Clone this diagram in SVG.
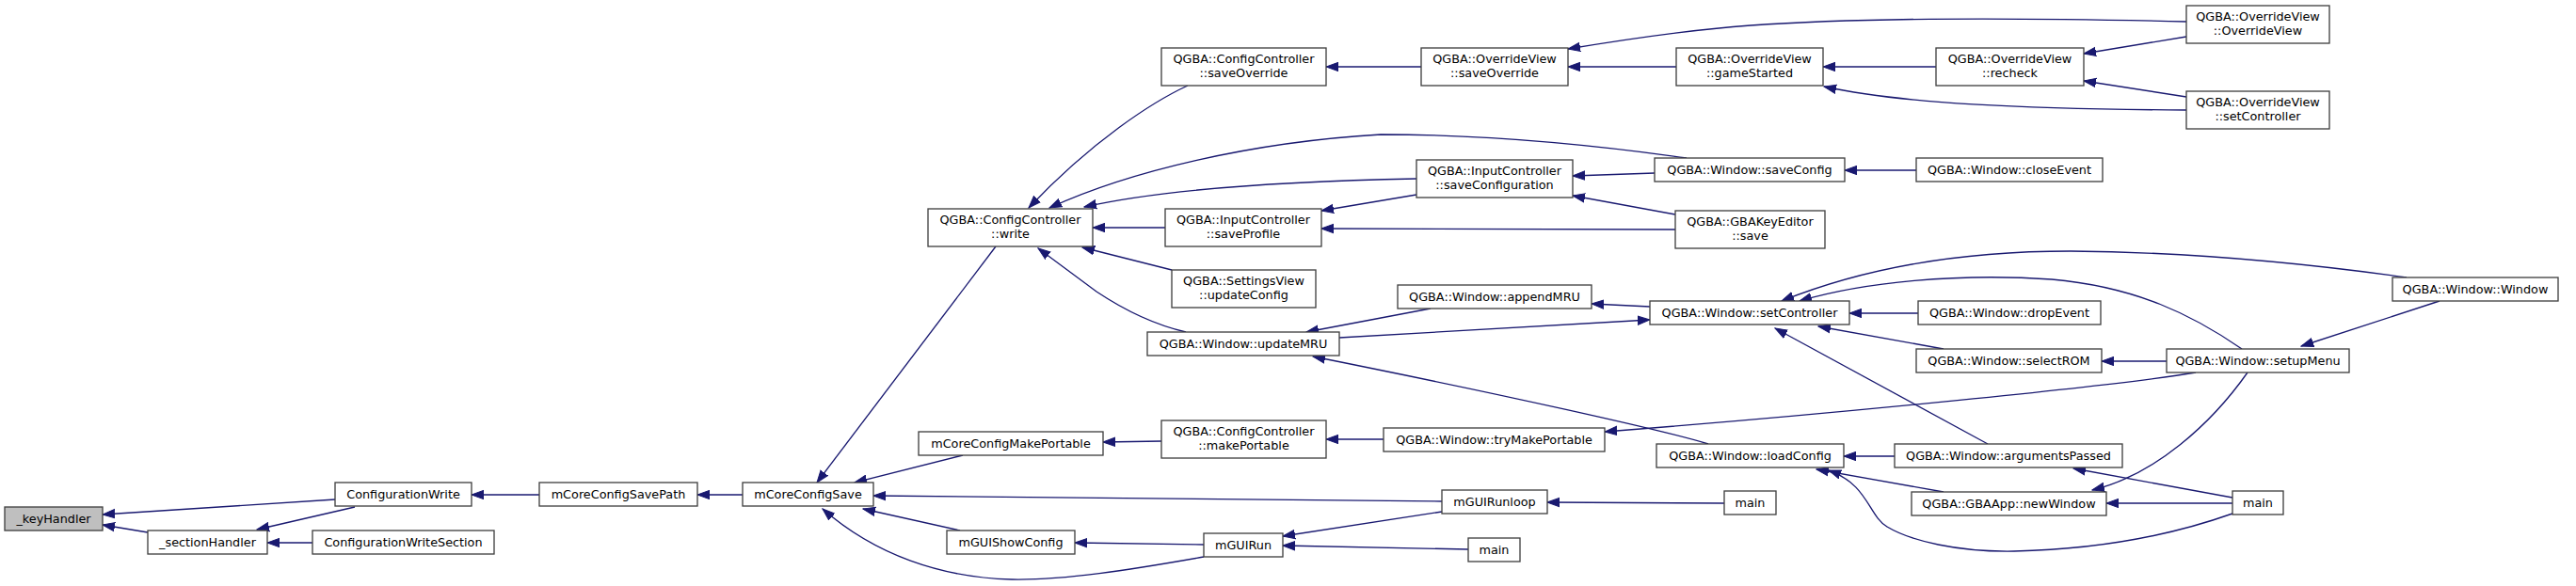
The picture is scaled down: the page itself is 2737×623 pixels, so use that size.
<svg xmlns="http://www.w3.org/2000/svg" width="2737" height="623" viewBox="0 0 2737 623">
<style>
.n rect{fill:#ffffff;stroke:#404040;stroke-width:1.33}
.n.root rect{fill:#bfbfbf}
.n text{font-family:"DejaVu Sans",sans-serif;font-size:12.8px;fill:#000000;text-anchor:middle}
#edges path{fill:none;stroke:#191970;stroke-width:1.33;marker-end:url(#ah)}
</style>
<defs>
<marker id="ah" markerUnits="userSpaceOnUse" viewBox="0 -6 14 12" refX="13" refY="0" markerWidth="14" markerHeight="12" orient="auto">
<path d="M0,-4.7 L13,0 L0,4.7 Z" fill="#191970" stroke="#191970" stroke-width="1"/>
</marker>
</defs>
<rect width="2737" height="623" fill="#ffffff"/>
<g id="edges">
<path d="M356,531 L109,547"/>
<path d="M157,566 L109,558"/>
<path d="M377,539 L273,563"/>
<path d="M332,577 L284,577"/>
<path d="M573,526 L501,526"/>
<path d="M789,526 L741,526"/>
<path d="M1058,262 L868,513"/>
<path d="M1023,484 L908,513"/>
<path d="M1532,533 L928,527"/>
<path d="M1020,564 L917,541"/>
<path d="M1279,592 C1200,606 1130,617 1075,616 C1000,614 930,590 874,541"/>
<path d="M1279,579 L1142,577"/>
<path d="M1532,544 L1363,570"/>
<path d="M1560,584 L1363,580"/>
<path d="M1832,535 L1644,534"/>
<path d="M1262,91 C1225,108 1160,150 1093,221"/>
<path d="M1792,168 C1700,155 1580,143 1467,143 C1330,151 1200,182 1115,221"/>
<path d="M1505,190 C1400,192 1250,198 1152,220"/>
<path d="M1238,242 L1161,242"/>
<path d="M1245,287 L1150,263"/>
<path d="M1260,353 C1230,346 1195,330 1165,310 L1103,264"/>
<path d="M1510,71 L1409,71"/>
<path d="M1781,71 L1666,71"/>
<path d="M2323,23 C2200,20 2000,17 1860,27 C1790,32 1720,43 1666,52"/>
<path d="M2323,39 L2214,57"/>
<path d="M2323,103 L2214,86"/>
<path d="M2057,71 L1937,71"/>
<path d="M2323,117 C2150,116 2020,110 1938,92"/>
<path d="M2036,181 L1960,181"/>
<path d="M1758,184 L1671,187"/>
<path d="M1780,228 L1671,208"/>
<path d="M1780,244 L1404,243"/>
<path d="M1505,207 L1404,224"/>
<path d="M1520,328 L1388,353"/>
<path d="M1423,359 L1753,340"/>
<path d="M1753,326 L1691,323"/>
<path d="M1815,472 C1770,458 1600,420 1395,379"/>
<path d="M2557,295 C2450,280 2330,268 2200,267 C2080,267 1980,285 1893,320"/>
<path d="M2382,371 C2330,335 2270,305 2180,297 C2080,290 1980,300 1912,320"/>
<path d="M2038,333 L1965,333"/>
<path d="M2065,371 L1932,347"/>
<path d="M2112,472 L1886,349"/>
<path d="M2302,384 L2233,384"/>
<path d="M1470,467 L1409,467"/>
<path d="M1234,469 L1172,470"/>
<path d="M2333,396 C2250,410 1950,440 1705,459"/>
<path d="M2013,485 L1959,485"/>
<path d="M2065,523 L1930,499"/>
<path d="M2372,546 C2310,568 2230,584 2140,586 C2080,587 2030,575 2005,560 C1985,548 1985,515 1943,500"/>
<path d="M2372,529 L2203,498"/>
<path d="M2372,535 L2238,535"/>
<path d="M2388,396 C2350,450 2290,505 2223,521"/>
<path d="M2592,320 L2445,368"/>
</g>
<g id="n_keyHandler" class="n root"><rect x="5" y="539" width="104" height="25"/><text x="57" y="556">_keyHandler</text></g>
<g id="n_sectionHandler" class="n"><rect x="157" y="564" width="127" height="25"/><text x="220.5" y="581">_sectionHandler</text></g>
<g id="n_ConfigurationWrite" class="n"><rect x="356" y="513" width="145" height="25"/><text x="428.5" y="530">ConfigurationWrite</text></g>
<g id="n_ConfigurationWriteSection" class="n"><rect x="332" y="564" width="193" height="25"/><text x="428.5" y="581">ConfigurationWriteSection</text></g>
<g id="n_mCoreConfigSavePath" class="n"><rect x="573" y="513" width="168" height="25"/><text x="657" y="530">mCoreConfigSavePath</text></g>
<g id="n_mCoreConfigSave" class="n"><rect x="789" y="513" width="139" height="25"/><text x="858.5" y="530">mCoreConfigSave</text></g>
<g id="n_cc_write" class="n"><rect x="986" y="222" width="175" height="40"/><text x="1073.5" y="238">QGBA::ConfigController</text><text x="1073.5" y="253">::write</text></g>
<g id="n_cc_saveOverride" class="n"><rect x="1234" y="51" width="175" height="40"/><text x="1321.5" y="67">QGBA::ConfigController</text><text x="1321.5" y="82">::saveOverride</text></g>
<g id="n_ic_saveProfile" class="n"><rect x="1238" y="222" width="166" height="40"/><text x="1321" y="238">QGBA::InputController</text><text x="1321" y="253">::saveProfile</text></g>
<g id="n_sv_updateConfig" class="n"><rect x="1245" y="287" width="153" height="40"/><text x="1321.5" y="303">QGBA::SettingsView</text><text x="1321.5" y="318">::updateConfig</text></g>
<g id="n_w_updateMRU" class="n"><rect x="1219" y="353" width="204" height="25"/><text x="1321" y="370">QGBA::Window::updateMRU</text></g>
<g id="n_mCoreConfigMakePortable" class="n"><rect x="976" y="459" width="196" height="25"/><text x="1074" y="476">mCoreConfigMakePortable</text></g>
<g id="n_cc_makePortable" class="n"><rect x="1234" y="447" width="175" height="40"/><text x="1321.5" y="463">QGBA::ConfigController</text><text x="1321.5" y="478">::makePortable</text></g>
<g id="n_mGUIShowConfig" class="n"><rect x="1006" y="564" width="136" height="25"/><text x="1074" y="581">mGUIShowConfig</text></g>
<g id="n_mGUIRun" class="n"><rect x="1279" y="567" width="84" height="25"/><text x="1321" y="584">mGUIRun</text></g>
<g id="n_ov_saveOverride" class="n"><rect x="1510" y="51" width="156" height="40"/><text x="1588" y="67">QGBA::OverrideView</text><text x="1588" y="82">::saveOverride</text></g>
<g id="n_ic_saveConfiguration" class="n"><rect x="1505" y="170" width="166" height="40"/><text x="1588" y="186">QGBA::InputController</text><text x="1588" y="201">::saveConfiguration</text></g>
<g id="n_w_appendMRU" class="n"><rect x="1485" y="303" width="206" height="25"/><text x="1588" y="320">QGBA::Window::appendMRU</text></g>
<g id="n_w_saveConfig" class="n"><rect x="1758" y="168" width="202" height="25"/><text x="1859" y="185">QGBA::Window::saveConfig</text></g>
<g id="n_ke_save" class="n"><rect x="1780" y="224" width="159" height="40"/><text x="1859.5" y="240">QGBA::GBAKeyEditor</text><text x="1859.5" y="255">::save</text></g>
<g id="n_w_setController" class="n"><rect x="1753" y="320" width="212" height="25"/><text x="1859" y="337">QGBA::Window::setController</text></g>
<g id="n_w_tryMakePortable" class="n"><rect x="1470" y="455" width="235" height="25"/><text x="1587.5" y="472">QGBA::Window::tryMakePortable</text></g>
<g id="n_mGUIRunloop" class="n"><rect x="1532" y="521" width="112" height="25"/><text x="1588" y="538">mGUIRunloop</text></g>
<g id="n_main_a" class="n"><rect x="1560" y="572" width="55" height="25"/><text x="1587.5" y="589">main</text></g>
<g id="n_w_loadConfig" class="n"><rect x="1760" y="472" width="199" height="25"/><text x="1859.5" y="489">QGBA::Window::loadConfig</text></g>
<g id="n_ov_gameStarted" class="n"><rect x="1781" y="51" width="156" height="40"/><text x="1859" y="67">QGBA::OverrideView</text><text x="1859" y="82">::gameStarted</text></g>
<g id="n_ov_recheck" class="n"><rect x="2057" y="51" width="157" height="40"/><text x="2135.5" y="67">QGBA::OverrideView</text><text x="2135.5" y="82">::recheck</text></g>
<g id="n_w_closeEvent" class="n"><rect x="2036" y="168" width="198" height="25"/><text x="2135" y="185">QGBA::Window::closeEvent</text></g>
<g id="n_w_dropEvent" class="n"><rect x="2038" y="320" width="194" height="25"/><text x="2135" y="337">QGBA::Window::dropEvent</text></g>
<g id="n_w_selectROM" class="n"><rect x="2036" y="371" width="197" height="25"/><text x="2134.5" y="388">QGBA::Window::selectROM</text></g>
<g id="n_w_argumentsPassed" class="n"><rect x="2013" y="472" width="242" height="25"/><text x="2134" y="489">QGBA::Window::argumentsPassed</text></g>
<g id="n_main_b" class="n"><rect x="1832" y="522" width="55" height="25"/><text x="1859.5" y="539">main</text></g>
<g id="n_app_newWindow" class="n"><rect x="2031" y="523" width="207" height="25"/><text x="2134.5" y="540">QGBA::GBAApp::newWindow</text></g>
<g id="n_ov_OverrideView" class="n"><rect x="2323" y="6" width="152" height="40"/><text x="2399" y="22">QGBA::OverrideView</text><text x="2399" y="37">::OverrideView</text></g>
<g id="n_ov_setController" class="n"><rect x="2323" y="97" width="152" height="40"/><text x="2399" y="113">QGBA::OverrideView</text><text x="2399" y="128">::setController</text></g>
<g id="n_w_Window" class="n"><rect x="2542" y="295" width="176" height="25"/><text x="2630" y="312">QGBA::Window::Window</text></g>
<g id="n_w_setupMenu" class="n"><rect x="2302" y="371" width="194" height="25"/><text x="2399" y="388">QGBA::Window::setupMenu</text></g>
<g id="n_main_c" class="n"><rect x="2372" y="522" width="54" height="25"/><text x="2399" y="539">main</text></g>
</svg>
